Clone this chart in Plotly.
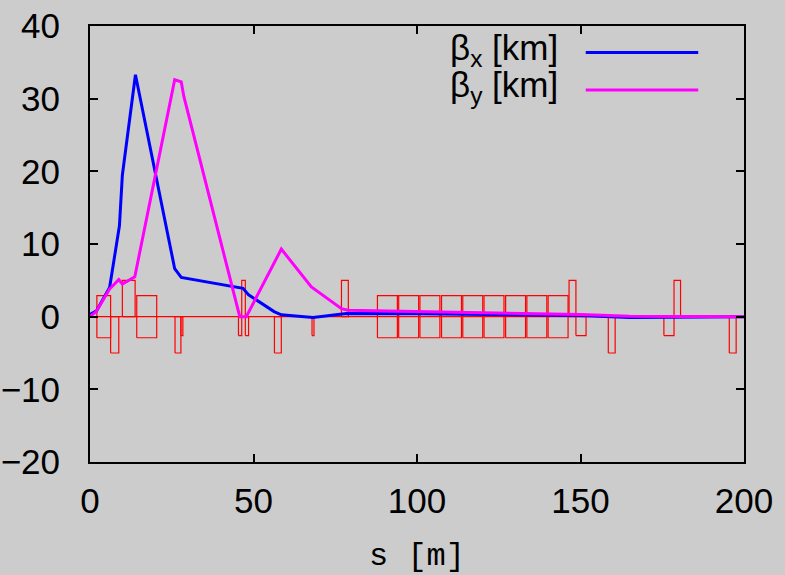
import plotly.graph_objects as go

# ---- lattice functions (s in m, beta in km) ----
s_bx = [0, 2.0, 6.0, 9.0, 9.9, 13.9, 25.9, 27.9, 46.8, 48.5, 56.3, 58.5, 68.2, 78.4, 100, 120, 150, 165, 200]
beta_x = [0.3, 0.8, 4.0, 12.5, 19.5, 33.3, 6.6, 5.4, 3.9, 3.0, 0.7, 0.25, -0.1, 0.45, 0.4, 0.3, 0.15, -0.1, 0.0]

s_by = [0, 1.9, 6.0, 8.8, 9.9, 13.7, 25.9, 27.9, 28.7, 45.8, 47.8, 56.3, 58.5, 67.7, 76.9, 78.9, 100, 120, 150, 165, 200]
beta_y = [0.0, 0.7, 3.8, 5.1, 4.5, 5.5, 32.6, 32.3, 30.3, 0.0, 0.0, 7.3, 9.3, 4.1, 1.1, 0.9, 0.7, 0.5, 0.3, 0.05, 0.0]

# ---- magnet layout: start, end, top, bottom ----
mag_start = [2.1, 6.3, 9.9, 14.3, 26.0, 27.8, 45.4, 46.4, 47.5, 56.4, 67.9, 76.9,
             87.9, 94.4, 100.9, 107.5, 114.0, 120.5, 127.1, 133.6, 140.1,
             146.5, 148.6, 158.5, 175.5, 178.6, 195.5]
mag_end = [6.3, 8.8, 13.8, 20.4, 27.8, 28.4, 46.4, 47.5, 48.5, 58.5, 68.5, 79.0,
           94.0, 100.5, 107.0, 113.6, 120.1, 126.6, 133.2, 139.7, 146.2,
           148.6, 151.7, 160.6, 178.6, 180.6, 197.6]
mag_top = [2.9, 0, 5, 2.9, 0, 0, 0, 5, 0, 0, 0, 5,
           2.9, 2.9, 2.9, 2.9, 2.9, 2.9, 2.9, 2.9, 2.9,
           5, 0, 0, 0, 5, 0]
mag_bot = [-2.9, -5, 0, -2.9, -5, -2.6, -2.6, 0, -2.6, -5, -2.6, 0,
           -2.9, -2.9, -2.9, -2.9, -2.9, -2.9, -2.9, -2.9, -2.9,
           0, -2.6, -5, -2.6, 0, -5]

# build magnet outline path
mx, my = [0, 200, None], [0, 0, None]
for a, b, t, d in zip(mag_start, mag_end, mag_top, mag_bot):
    mx += [a, a, b, b, a, None]
    my += [d, t, t, d, d, None]

BG = "#cccccc"
FONT = "Liberation Sans, Arial, sans-serif"

fig = go.Figure()
fig.add_trace(go.Scatter(x=mx, y=my, mode="lines",
                         line=dict(color="#ff0000", width=1.2),
                         connectgaps=False, showlegend=False, hoverinfo="skip"))
fig.add_trace(go.Scatter(x=s_bx, y=beta_x, mode="lines", name="βx [km]",
                         line=dict(color="#0000ff", width=3), showlegend=False))
fig.add_trace(go.Scatter(x=s_by, y=beta_y, mode="lines", name="βy [km]",
                         line=dict(color="#ff00ff", width=3), showlegend=False))

# gnuplot-style key: text on the left, sample line on the right
legend_items = [("β<sub>x</sub> [km]", "#0000ff", 0.939),
                ("β<sub>y</sub> [km]", "#ff00ff", 0.853)]
for txt, col, yp in legend_items:
    fig.add_annotation(text=txt, xref="paper", yref="paper", x=0.719, y=yp + 0.006,
                       xanchor="right", yanchor="middle", showarrow=False,
                       font=dict(family=FONT, size=35, color="black"))
    fig.add_shape(type="line", xref="paper", yref="paper",
                  x0=0.758, x1=0.930, y0=yp, y1=yp,
                  line=dict(color=col, width=3))

axis_common = dict(showline=True, linecolor="black", linewidth=2, mirror="ticks",
                   ticks="inside", ticklen=8, tickwidth=1.5, tickcolor="black",
                   showgrid=False, zeroline=False, automargin=False,
                   tickfont=dict(family=FONT, size=35, color="black"))

fig.update_xaxes(range=[0, 200], tickvals=[0, 50, 100, 150, 200],
                 ticklabelstandoff=7,
                 title=dict(text="s [m]", standoff=36,
                            font=dict(family="Liberation Mono, Courier New, monospace",
                                      size=32, color="black")),
                 **axis_common)
fig.update_yaxes(range=[-20, 40], tickvals=[-20, -10, 0, 10, 20, 30, 40],
                 ticklabelstandoff=21, **axis_common)

fig.update_layout(width=785, height=575,
                  margin=dict(l=90, r=41, t=26, b=113),
                  paper_bgcolor=BG, plot_bgcolor=BG,
                  showlegend=False)

fig.write_html("out.html")
